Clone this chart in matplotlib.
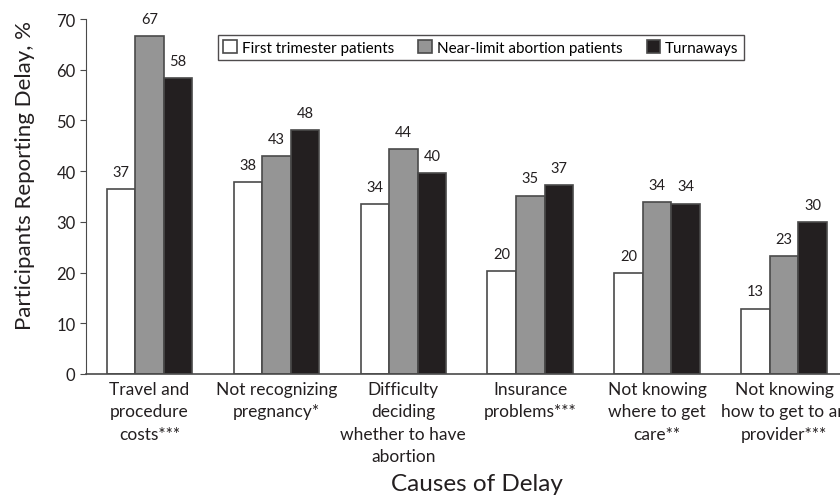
import matplotlib
matplotlib.use('Agg')
import matplotlib.pyplot as plt
import numpy as np

causes = ['Travel and\nprocedure\ncosts***', 'Not recognizing\npregnancy*',
          'Difficulty\ndeciding\nwhether to have\nabortion', 'Insurance\nproblems***',
          'Not knowing\nwhere to get\ncare**', 'Not knowing\nhow to get to an\nprovider***']
first_tri = [36.5, 37.9, 33.5, 20.3, 19.9, 12.9]
near_limit = [66.6, 42.9, 44.4, 35.2, 33.9, 23.3]
turnaways = [58.4, 48.1, 39.6, 37.3, 33.6, 30.0]
lab_first = [37, 38, 34, 20, 20, 13]
lab_near = [67, 43, 44, 35, 34, 23]
lab_turn = [58, 48, 40, 37, 34, 30]

plt.rcParams['font.family'] = ['Lato', 'DejaVu Sans']

fig = plt.figure(figsize=(8.4, 5.02), dpi=100)
ax = fig.add_axes([0.1024, 0.253, 0.8976, 0.707])

x = np.arange(len(causes))
w = 0.225
edge = '#4a4a4a'
txt = '#231f20'
series = [(first_tri, lab_first, 'white', 'First trimester patients'),
          (near_limit, lab_near, '#959595', 'Near-limit abortion patients'),
          (turnaways, lab_turn, '#231f20', 'Turnaways')]
for i, (vals, labs, col, name) in enumerate(series):
    pos = x + (i - 1) * w
    ax.bar(pos, vals, w, color=col, edgecolor=edge, linewidth=1.2, label=name)
    for p, v, l in zip(pos, vals, labs):
        ax.text(p, v + 2.0, str(l), ha='center', va='bottom', fontsize=10.5, color=txt)

ax.set_xlim(-0.5, 5.44)
ax.set_ylim(0, 70)
ax.set_yticks(range(0, 71, 10))
ax.tick_params(axis='y', direction='out', length=4, labelsize=12, color=edge, labelcolor=txt)
ax.set_xticks(x)
ax.set_xticklabels(causes, fontsize=12.5, color=txt, linespacing=1.5)
ax.tick_params(axis='x', length=0, pad=5)
ax.spines['top'].set_visible(False)
ax.spines['right'].set_visible(False)
ax.spines['left'].set_color(edge)
ax.spines['bottom'].set_color(edge)
ax.spines['bottom'].set_linewidth(1.2)
ax.set_ylabel('Participants Reporting Delay, %', fontsize=16, color=txt)
ax.yaxis.set_label_coords(-0.068, 0.563)
ax.set_xlabel('Causes of Delay', fontsize=17.5, color=txt)
ax.xaxis.set_label_coords(0.519, -0.28)

leg = ax.legend(loc='upper left', bbox_to_anchor=(0.175, 0.955), ncol=3, fontsize=11,
                frameon=True, fancybox=False, edgecolor=txt, handlelength=0.9,
                handleheight=0.9, handletextpad=0.3, columnspacing=1.6,
                borderpad=0.35, borderaxespad=0)
leg.get_frame().set_linewidth(1.0)

plt.savefig('out.png', dpi=100)
